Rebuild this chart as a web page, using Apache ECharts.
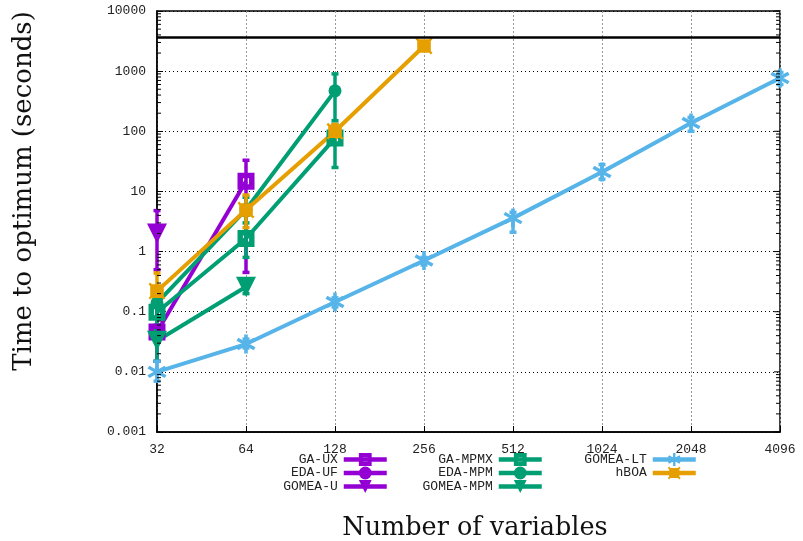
<!DOCTYPE html>
<html>
<head>
<meta charset="utf-8">
<script src="https://cdn.jsdelivr.net/npm/echarts@6/dist/echarts.min.js"></script>
<style>html,body{margin:0;padding:0;background:#fff}#c{width:803px;height:541px}</style>
</head>
<body>
<div id="c"></div>
<script>
// ---- data ----
const xTicks = [32, 64, 128, 256, 512, 1024, 2048, 4096];
const yTicks = [0.001, 0.01, 0.1, 1, 10, 100, 1000, 10000];
const timeLimit = 3600;

const gaUX      = [[32, 0.046], [64, 14.8]];
const gaUXErr   = [[32, 0.015, 0.2], [64, 0.45, 33]];
const edaUF     = [];
const gomeaU    = [[32, 2.0]];
const gomeaUErr = [[32, 0.5, 4.8]];

const gaMPMX      = [[32, 0.098], [64, 1.65], [128, 77]];
const gaMPMXErr   = [[32, 0.05, 0.2], [64, 0.8, 4], [128, 25, 130]];
const edaMPM      = [[32, 0.14], [64, 5.0], [128, 470]];
const edaMPMErr   = [[32, 0.08, 0.25], [64, 3, 8], [128, 150, 900]];
const gomeaMPM    = [[32, 0.033], [64, 0.26]];
const gomeaMPMErr = [[32, 0.015, 0.06], [64, 0.2, 0.35]];

const gomeaLT    = [[32, 0.010], [64, 0.029], [128, 0.145], [256, 0.71], [512, 3.6], [1024, 21], [2048, 137], [4096, 770]];
const gomeaLTErr = [[32, 0.007, 0.015], [64, 0.025, 0.035], [128, 0.12, 0.17], [256, 0.6, 0.8], [512, 2.1, 4.5], [1024, 16, 28], [2048, 100, 170], [4096, 600, 950]];
const hBOA    = [[32, 0.22], [64, 4.9], [128, 100], [256, 2620]];
const hBOAErr = [[32, 0.15, 0.44], [64, 2.5, 8.7], [128, 80, 130], [256, 2400, 2900]];

// ---- style ----
const PURPLE = '#9400d3', GREEN = '#009e73', BLUE = '#56b4e9', ORANGE = '#e69f00';
const MONO = 'Liberation Mono';
const SERIF = 'DejaVu Serif';

// six-armed asterisk symbol path
function asteriskPath() {
  const parts = [];
  const L = 5, T = 1.8;
  [90, 30, 150].forEach(a => {
    const r = a * Math.PI / 180, c = Math.cos(r), s = Math.sin(r);
    const px = -s * T / 2, py = c * T / 2;
    const pts = [[-L * c + px, -L * s + py], [L * c + px, L * s + py], [L * c - px, L * s - py], [-L * c - px, -L * s - py]];
    parts.push('M' + pts.map(p => (p[0] + 5).toFixed(2) + ',' + (p[1] + 5).toFixed(2)).join(' L') + ' Z');
  });
  return 'path://' + parts.join(' ');
}
const STAR = asteriskPath();
const NOTCHSQ = 'path://M1,0 L2,1 L8,1 L9,0 L10,1 L9,2 L9,8 L10,9 L9,10 L8,9 L2,9 L1,10 L0,9 L1,8 L1,2 L0,1 Z';
const HOLLOWSQ = 'path://M0,0 L10,0 L10,10 L0,10 Z M3.2,3.2 L3.2,6.8 L6.8,6.8 L6.8,3.2 Z';

function lineSeries(name, data, color, symbol, size, rotate) {
  return {
    name, type: 'line', data, symbol, symbolSize: size, symbolRotate: rotate || 0,
    showAllSymbol: true, connectNulls: false, z: 3,
    lineStyle: { color, width: 4 },
    itemStyle: { color, borderWidth: 0 },
    emphasis: { disabled: true }
  };
}
function errSeries(data, color) {
  return {
    type: 'custom', data, z: 2, silent: true,
    encode: { x: 0, y: [1, 2] },
    renderItem(params, api) {
      const x = api.value(0);
      const lo = api.coord([x, api.value(1)]);
      const hi = api.coord([x, api.value(2)]);
      const w = 3.5;
      const st = { stroke: color, lineWidth: 3.5 };
      return { type: 'group', children: [
        { type: 'line', shape: { x1: lo[0], y1: lo[1], x2: hi[0], y2: hi[1] }, style: st },
        { type: 'line', shape: { x1: lo[0] - w, y1: lo[1], x2: lo[0] + w, y2: lo[1] }, style: st },
        { type: 'line', shape: { x1: hi[0] - w, y1: hi[1], x2: hi[0] + w, y2: hi[1] }, style: st }
      ]};
    }
  };
}

// log minor/major tick positions for the frame (mirrored on the right)
const minorVals = [];
for (let e = -3; e < 4; e++) for (let m = 2; m <= 9; m++) minorVals.push([32, +(m * Math.pow(10, e)).toPrecision(3), 0]);
yTicks.forEach(v => minorVals.push([32, v, 1]));
const tickSeries = {
  type: 'custom', data: minorVals, z: 5, silent: true,
  encode: { x: 0, y: 1 },
  renderItem(params, api) {
    const v = api.value(1), major = api.value(2) === 1;
    const l = api.coord([xTicks[0], v]);
    const r = api.coord([xTicks[xTicks.length - 1], v]);
    const st = { stroke: '#000', lineWidth: 1 };
    const ch = [{ type: 'line', shape: { x1: r[0], y1: r[1], x2: r[0] - (major ? 6 : 4), y2: r[1] }, style: st }];
    if (!major) ch.push({ type: 'line', shape: { x1: l[0], y1: l[1], x2: l[0] + 4, y2: l[1] }, style: st });
    return { type: 'group', children: ch };
  }
};

const chart = echarts.init(document.getElementById('c'), null, { renderer: 'canvas' });
const legendBase = {
  orient: 'vertical', align: 'right', top: 448, itemGap: 0.5,
  itemWidth: 43, itemHeight: 16,
  lineStyle: { width: 4.5 },
  textStyle: { fontFamily: MONO, fontSize: 13, color: '#222', padding: [0, 1, 0, 0] },
  selectedMode: false
};
chart.setOption({
  animation: false,
  backgroundColor: '#fff',
  grid: { left: 157, right: 23, top: 11, bottom: 109, show: true, borderColor: '#000', borderWidth: 1.5, backgroundColor: 'transparent' },
  xAxis: {
    type: 'log', logBase: 2, min: xTicks[0], max: xTicks[xTicks.length - 1],
    splitNumber: 7,
    axisLine: { lineStyle: { color: '#000', width: 1.5 } },
    axisTick: { inside: true, length: 6, lineStyle: { color: '#000' } },
    axisLabel: { fontFamily: MONO, fontSize: 13, color: '#222', margin: 11, formatter: v => String(Math.round(v)) },
    splitLine: { show: true, lineStyle: { color: '#999', type: [2, 2], width: 1 } }
  },
  yAxis: {
    type: 'log', logBase: 10, min: yTicks[0], max: yTicks[yTicks.length - 1],
    splitNumber: 7,
    axisLine: { lineStyle: { color: '#000', width: 1.5 } },
    axisTick: { inside: true, length: 6, lineStyle: { color: '#000' } },
    axisLabel: { fontFamily: MONO, fontSize: 13, color: '#222', margin: 11,
      formatter: v => { const e = Math.round(Math.log10(v)); const t = yTicks.find(q => Math.round(Math.log10(q)) === e); return t === undefined ? '' : String(t); } },
    splitLine: { show: true, lineStyle: { color: '#000', type: [1, 3], width: 1 } }
  },
  graphic: [
    { type: 'text', x: 24, y: 191, rotation: Math.PI / 2, silent: true,
      style: { text: 'Time to optimum (seconds)', font: '26px "' + SERIF + '"', fill: '#111', align: 'center', verticalAlign: 'middle' } },
    { type: 'text', x: 475, y: 528, silent: true,
      style: { text: 'Number of variables', font: '25.5px "' + SERIF + '"', fill: '#111', align: 'center', verticalAlign: 'middle' } }
  ],
  legend: [
    Object.assign({}, legendBase, { right: 409, data: ['GA-UX', 'EDA-UF', 'GOMEA-U'] }),
    Object.assign({}, legendBase, { right: 254, data: ['GA-MPMX', 'EDA-MPM', 'GOMEA-MPM'] }),
    Object.assign({}, legendBase, { right: 100, data: ['GOMEA-LT', 'hBOA'] })
  ],
  series: [
    tickSeries,
    errSeries(gaUXErr, PURPLE), errSeries(gomeaUErr, PURPLE),
    errSeries(gaMPMXErr, GREEN), errSeries(edaMPMErr, GREEN), errSeries(gomeaMPMErr, GREEN),
    errSeries(gomeaLTErr, BLUE), errSeries(hBOAErr, ORANGE),
    lineSeries('GA-UX', gaUX, PURPLE, HOLLOWSQ, 17),
    lineSeries('EDA-UF', edaUF, PURPLE, 'circle', 13),
    lineSeries('GOMEA-U', gomeaU, PURPLE, 'triangle', 20, 180),
    lineSeries('GA-MPMX', gaMPMX, GREEN, HOLLOWSQ, 17),
    lineSeries('EDA-MPM', edaMPM, GREEN, 'circle', 13),
    lineSeries('GOMEA-MPM', gomeaMPM, GREEN, 'triangle', 20, 180),
    lineSeries('GOMEA-LT', gomeaLT, BLUE, STAR, 19),
    lineSeries('hBOA', hBOA, ORANGE, NOTCHSQ, 17),
    {
      type: 'line', data: [], silent: true,
      markLine: { symbol: 'none', silent: true, label: { show: false },
        lineStyle: { color: '#000', width: 2.5, type: 'solid' },
        data: [{ yAxis: timeLimit }] }
    }
  ]
});
</script>
</body>
</html>
